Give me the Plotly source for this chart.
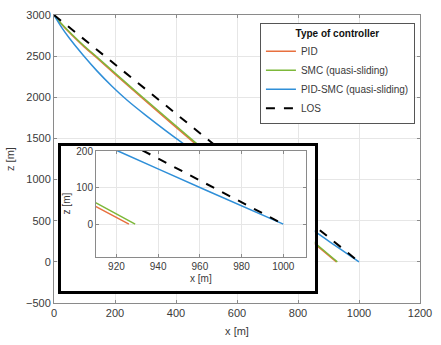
import plotly.graph_objects as go

# ---- data ----
x_pid = [0, 10, 30, 60, 100, 139, 200, 286, 460, 700, 910, 926]
z_pid = [3000, 2952, 2866, 2752, 2610, 2484, 2282, 2000, 1446, 700, 49, 0]

x_smc = [0, 10, 30, 60, 100, 139, 200, 286, 460, 700, 910, 929]
z_smc = [3000, 2955, 2872, 2760, 2620, 2495, 2295, 2015, 1462, 715, 59, 0]

x_pidsmc = [0, 25, 50, 95, 140, 190, 240, 300, 415, 550, 700, 862, 921, 963, 1000]
z_pidsmc = [3000, 2850, 2720, 2513, 2324, 2134, 1964, 1784, 1462, 1125, 750, 352, 200, 93, 0]

x_los = [0, 1000]
z_los = [3000, 0]

names = ["PID", "SMC (quasi-sliding)", "PID-SMC (quasi-sliding)", "LOS"]
colors = ["#E8703F", "#7DB83A", "#2F8FD8", "#000000"]

main_xticks = [0, 200, 400, 600, 800, 1000, 1200]
main_yticks = [-500, 0, 500, 1000, 1500, 2000, 2500, 3000]
inset_xticks = [920, 940, 960, 980, 1000]
inset_yticks = [0, 100, 200]

FONT = "Liberation Sans, Arial, sans-serif"
TXT = "#3a3a3a"
AX = "#8a8a8a"
GRID = "#e6e6e6"

series = [(x_pid, z_pid), (x_smc, z_smc), (x_pidsmc, z_pidsmc), (x_los, z_los)]

fig = go.Figure()

def line_style(n, c):
    if n == "LOS":
        return dict(color=c, width=2, dash="dash")
    return dict(color=c, width=1.5, shape="spline", smoothing=0.8)

# main plot traces
for (xs, zs), n, c in zip(series, names, colors):
    fig.add_trace(go.Scatter(x=xs, y=zs, mode="lines", name=n,
                             line=line_style(n, c), xaxis="x", yaxis="y"))

# inset frame (white box with thick border)
fig.add_trace(go.Scatter(x=[0, 1, 1, 0, 0], y=[0, 0, 1, 1, 0], mode="lines",
                         fill="toself", fillcolor="white",
                         line=dict(width=0, color="white"),
                         showlegend=False, hoverinfo="skip",
                         xaxis="x2", yaxis="y2"))

# inset traces
for (xs, zs), n, c in zip(series, names, colors):
    fig.add_trace(go.Scatter(x=xs, y=zs, mode="lines", name=n,
                             line=line_style(n, c),
                             showlegend=False, xaxis="x3", yaxis="y3"))

W, H = 441, 345
ml, mr, mt, mb = 53, 13, 9, 40
pw, ph = W - ml - mr, H - mt - mb

def px2fx(p):
    return (p - ml) / pw

def py2fy(p):
    return (H - mb - p) / ph

common_axis = dict(showline=True, linecolor=AX, linewidth=1, mirror="ticks",
                   ticks="inside", ticklen=3, tickcolor=AX,
                   showgrid=True, gridcolor=GRID, gridwidth=1,
                   zeroline=False, tickfont=dict(family=FONT, size=11, color=TXT))
inset_axis = {**common_axis, "tickfont": dict(family=FONT, size=10, color=TXT)}

fig.update_layout(
    width=W, height=H,
    margin=dict(l=ml, r=mr, t=mt, b=mb),
    paper_bgcolor="white", plot_bgcolor="white",
    font=dict(family=FONT, size=10, color=TXT),
    xaxis=dict(range=[0, 1200], tickvals=main_xticks, domain=[0, 1],
               title=dict(text="x [m]", font=dict(family=FONT, size=11, color=TXT), standoff=9),
               **common_axis),
    yaxis=dict(range=[-500, 3000], tickvals=main_yticks, domain=[0, 1],
               title=dict(text="z [m]", font=dict(family=FONT, size=11, color=TXT), standoff=9),
               **common_axis),
    xaxis2=dict(range=[0, 1], domain=[px2fx(59.7), px2fx(320)], anchor="y2",
                showline=True, mirror=True, linecolor="black", linewidth=3,
                showgrid=False, zeroline=False, showticklabels=False, ticks=""),
    yaxis2=dict(range=[0, 1], domain=[py2fy(292.3), py2fy(143.5)], anchor="x2",
                showline=True, mirror=True, linecolor="black", linewidth=3,
                showgrid=False, zeroline=False, showticklabels=False, ticks=""),
    xaxis3=dict(range=[910.2, 1010.8], tickvals=inset_xticks,
                domain=[px2fx(96), px2fx(311)], anchor="y3",
                title=dict(text="x [m]", font=dict(family=FONT, size=10, color=TXT), standoff=4),
                **inset_axis),
    yaxis3=dict(range=[-89, 202], tickvals=inset_yticks,
                domain=[py2fy(257.3), py2fy(148.3)], anchor="x3",
                title=dict(text="z [m]", font=dict(family=FONT, size=10, color=TXT), standoff=3),
                **inset_axis),
    legend=dict(x=px2fx(264), y=py2fy(17), xanchor="left", yanchor="top",
                bgcolor="white", bordercolor="#555555", borderwidth=1,
                font=dict(family=FONT, size=10, color=TXT),
                title=dict(text="<b>Type of controller</b>", side="top center",
                           font=dict(family=FONT, size=10, color="#111111")),
                tracegroupgap=0, itemwidth=30),
    showlegend=True,
    shapes=[dict(type="line", xref="paper", yref="paper",
                 x0=px2fx(264.5), x1=px2fx(418), y0=py2fy(41.5), y1=py2fy(41.5),
                 line=dict(color="#555555", width=1), layer="above")],
)

fig.write_html("out.html")
